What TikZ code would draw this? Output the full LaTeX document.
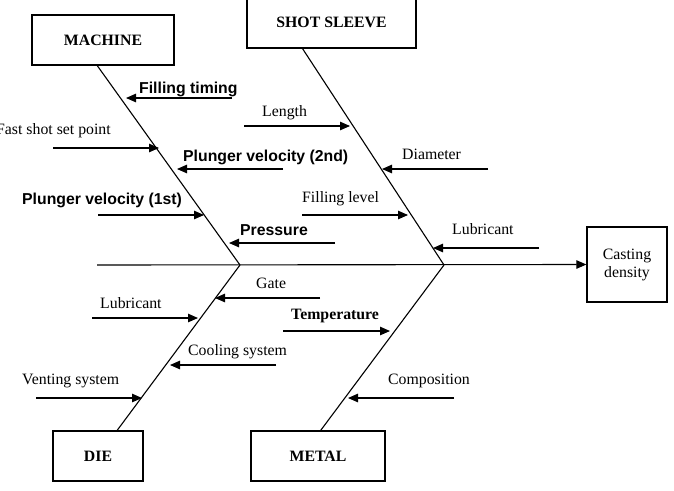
\documentclass[tikz,border=0pt]{standalone}
\usepackage{fontspec}
\setmainfont{Liberation Serif}
\setsansfont{Liberation Sans}
\usetikzlibrary{arrows.meta,positioning,calc}

\begin{document}
\begin{tikzpicture}[
    x=1pt, y=-1pt,
    font=\fontsize{15.8}{18}\selectfont,
    cat/.style={draw, line width=1.3pt, inner sep=0pt, font=\fontsize{15.8}{18}\selectfont\bfseries},
    effect/.style={draw, line width=1.3pt, inner sep=0pt, align=center, minimum width=80pt, minimum height=75pt},
    lbl/.style={inner sep=0pt, anchor=base west},
    lblsans/.style={lbl, font=\fontsize{15.8}{18}\selectfont\sffamily\bfseries},
    bone/.style={line width=1.1pt},
    cause/.style={line width=1.1pt, -{Triangle[length=10pt, width=8.5pt]}}
  ]
    \useasboundingbox (0,0) rectangle (674,490);

    % categories and effect
    \node[cat, minimum width=142pt, minimum height=50pt] (machine) at (103,40) {MACHINE};
    \node[cat, minimum width=169pt, minimum height=51pt] (sleeve) at (331.5,22.5) {SHOT SLEEVE};
    \node[cat, minimum width=90pt, minimum height=50pt] (die) at (98,456) {DIE};
    \node[cat, minimum width=134pt, minimum height=50pt] (metal) at (318,456) {METAL};
    \node[effect] (casting) at (627,264.5) {Casting\\density};

    % spine and bones
    \coordinate (tail) at (97,265);
    \coordinate (j1) at (240,265);
    \coordinate (j2) at (444,265);
    \draw[cause] (tail) -- (casting.west);
    \draw[bone] ($(machine.south west)!0.46!(machine.south east)$) -- (j1);
    \draw[bone] ($(sleeve.south west)!0.33!(sleeve.south east)$) -- (j2);
    \draw[bone] (j1) -- ($(die.north west)!0.71!(die.north east)$);
    \draw[bone] (j2) -- ($(metal.north west)!0.52!(metal.north east)$);

    % machine causes
    \coordinate (ft0) at (232,98);  \coordinate (ft1) at (126,98);
    \coordinate (fs0) at (53,148);  \coordinate (fs1) at (159,148);
    \coordinate (pv20) at (283,169); \coordinate (pv21) at (177,169);
    \coordinate (pv10) at (98,215); \coordinate (pv11) at (204,215);
    \coordinate (pr0) at (335,243); \coordinate (pr1) at (229,243);
    \draw[cause] (ft0) -- (ft1);
    \draw[cause] (fs0) -- (fs1);
    \draw[cause] (pv20) -- (pv21);
    \draw[cause] (pv10) -- (pv11);
    \draw[cause] (pr0) -- (pr1);
    \node[lblsans] (ft) at (139,93) {Filling timing};
    \node[lbl] (fs) at (-4,134) {Fast shot set point};
    \node[lblsans] (pv2) at (183,161) {Plunger velocity (2nd)};
    \node[lblsans] (pv1) at (22,204) {Plunger velocity (1st)};
    \node[lblsans] (pr) at (240,235) {Pressure};

    % shot sleeve causes
    \coordinate (le0) at (244,126); \coordinate (le1) at (350,126);
    \coordinate (di0) at (488,169); \coordinate (di1) at (382,169);
    \coordinate (fl0) at (302,215); \coordinate (fl1) at (408,215);
    \coordinate (lu0) at (539,248); \coordinate (lu1) at (433,248);
    \draw[cause] (le0) -- (le1);
    \draw[cause] (di0) -- (di1);
    \draw[cause] (fl0) -- (fl1);
    \draw[cause] (lu0) -- (lu1);
    \node[lbl] (le) at (262,116) {Length};
    \node[lbl] (di) at (402,159) {Diameter};
    \node[lbl] (fl) at (302,202) {Filling level};
    \node[lbl] (lu) at (452,234) {Lubricant};

    % die causes
    \coordinate (ga0) at (320,298); \coordinate (ga1) at (215,298);
    \coordinate (dl0) at (92,318);  \coordinate (dl1) at (198,318);
    \coordinate (co0) at (276,365); \coordinate (co1) at (170,365);
    \coordinate (ve0) at (36,398);  \coordinate (ve1) at (142,398);
    \draw[cause] (ga0) -- (ga1);
    \draw[cause] (dl0) -- (dl1);
    \draw[cause] (co0) -- (co1);
    \draw[cause] (ve0) -- (ve1);
    \node[lbl] (ga) at (256,288) {Gate};
    \node[lbl] (dl) at (100,308) {Lubricant};
    \node[lbl] (co) at (188,355) {Cooling system};
    \node[lbl] (ve) at (22,384) {Venting system};

    % metal causes
    \coordinate (te0) at (283,331); \coordinate (te1) at (390,331);
    \coordinate (cp0) at (454,398); \coordinate (cp1) at (348,398);
    \draw[cause] (te0) -- (te1);
    \draw[cause] (cp0) -- (cp1);
    \node[lbl, font=\fontsize{15.8}{18}\selectfont\bfseries] (te) at (291,319) {Temperature};
    \node[lbl] (cp) at (388,384) {Composition};
  \end{tikzpicture}
\end{document}
